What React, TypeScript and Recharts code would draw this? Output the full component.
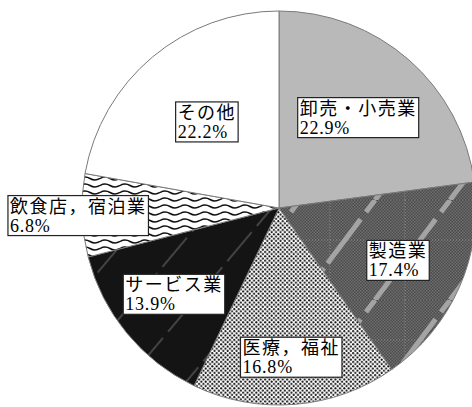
import { PieChart, Pie, Cell } from "recharts";

// industry shares (%), clockwise from 12 o'clock
const names = ["卸売・小売業", "製造業", "医療，福祉", "サービス業", "飲食店，宿泊業", "その他"];
const shares = [22.9, 17.4, 16.8, 13.9, 6.8, 22.2];

const fills = [
  "#b9b9b9",
  "url(#mfg)",
  "url(#dots)",
  "url(#service)",
  "url(#waves)",
  "#ffffff",
];
// label distance from centre as a share of the radius
const labelRadius = [0.61, 0.66, 0.76, 0.69, 1.02, 0.57];

const data = names.map((name, i) => ({ name, value: shares[i] }));

const RAD = Math.PI / 180;
const FONT = "'Liberation Serif', 'Noto Sans CJK JP', serif";

const renderLabel = (props: any) => {
  const { cx, cy, midAngle, outerRadius, index } = props;
  const r = outerRadius * labelRadius[index];
  const x = cx + r * Math.cos(-midAngle * RAD);
  const y = cy + r * Math.sin(-midAngle * RAD);
  const name = names[index];
  const w = name.length * 19.5 + 4;
  const h = 40;
  const left = x - w / 2;
  const top = y - h / 2;
  return (
    <g>
      <rect x={left} y={top} width={w} height={h} fill="#fff" stroke="#222" strokeWidth={1.2} />
      <text x={left + 2} y={top + 17} fontSize={18} fontFamily={FONT} fill="#000" letterSpacing={1.5}>
        {name}
      </text>
      <text x={left + 2} y={top + 36} fontSize={18} fontFamily={FONT} fill="#000" letterSpacing={0.8}>
        {shares[index].toFixed(1) + "%"}
      </text>
    </g>
  );
};

export default function App() {
  return (
    <div style={{ position: "absolute", left: 0, top: 0, width: 472, height: 407, background: "#fff" }}>
      <PieChart width={472} height={407} margin={{ top: 0, right: 0, bottom: 0, left: 0 }}>
        <defs>
          <pattern id="mfgBase" width={3} height={3} patternUnits="userSpaceOnUse">
            <rect width={3} height={3} fill="#4c4c4c" />
            <rect width={1.5} height={1.5} fill="#6e6e6e" />
            <rect x={1.5} y={1.5} width={1.5} height={1.5} fill="#6e6e6e" />
          </pattern>
          <pattern id="mfg" width={75} height={100} patternUnits="userSpaceOnUse">
            <rect width={75} height={100} fill="url(#mfgBase)" />
            <line x1={30} y1={0} x2={30} y2={100} stroke="#8c8c8c" strokeWidth={1} strokeDasharray="1 2" />
            <line x1={0} y1={40} x2={75} y2={40} stroke="#8c8c8c" strokeWidth={1} strokeDasharray="1 2" />
            <g stroke="#a4a4a4" strokeWidth={5} strokeDasharray="40 6 55 9">
              <line x1={-75} y1={100} x2={0} y2={0} />
              <line x1={0} y1={100} x2={75} y2={0} />
              <line x1={75} y1={100} x2={150} y2={0} />
            </g>
          </pattern>
          <pattern id="dots" width={4.4} height={4.4} patternUnits="userSpaceOnUse">
            <rect width={4.4} height={4.4} fill="#fff" />
            <circle cx={1.1} cy={1.1} r={1.05} fill="#111" />
            <circle cx={3.3} cy={3.3} r={1.05} fill="#111" />
          </pattern>
          <pattern id="service" width={46} height={46} patternUnits="userSpaceOnUse" patternTransform="rotate(-50)">
            <rect width={46} height={46} fill="#141414" />
            <line x1={0} y1={20} x2={46} y2={20} stroke="#8a8a8a" strokeWidth={0.8} strokeDasharray="30 8" />
          </pattern>
          <pattern id="waves" width={20} height={7} patternUnits="userSpaceOnUse">
            <rect width={20} height={7} fill="#fff" />
            <path d="M0 3.5 Q5 0.5 10 3.5 T20 3.5" fill="none" stroke="#111" strokeWidth={1.5} />
          </pattern>
        </defs>
        <Pie
          data={data}
          dataKey="value"
          nameKey="name"
          cx={279}
          cy={208}
          outerRadius={197}
          startAngle={90}
          endAngle={-270}
          stroke="#7a7a7a"
          strokeWidth={1}
          label={renderLabel}
          labelLine={false}
          isAnimationActive={false}
        >
          {data.map((d, i) => (
            <Cell key={d.name} fill={fills[i]} />
          ))}
        </Pie>
      </PieChart>
    </div>
  );
}
